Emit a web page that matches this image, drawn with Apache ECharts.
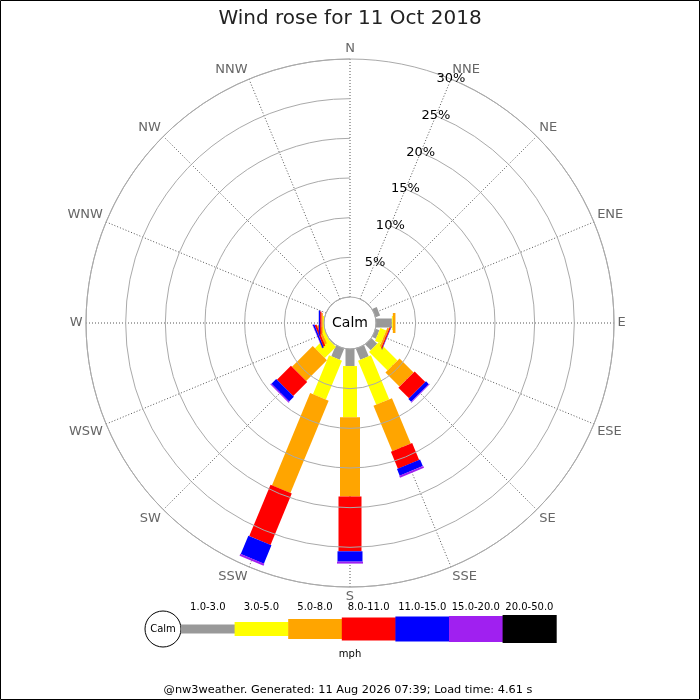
<!DOCTYPE html>
<html>
<head>
<meta charset="utf-8">
<title>Wind rose for 11 Oct 2018</title>
<script src="https://cdn.jsdelivr.net/npm/echarts@6/dist/echarts.min.js"></script>
<style>
  html, body { margin: 0; padding: 0; background: #fff; }
  #chart { width: 700px; height: 700px; }
</style>
</head>
<body>
<div id="chart"></div>
<script>
// compass points, N first, clockwise
var directions = ['N', 'NNE', 'NE', 'ENE', 'E', 'ESE', 'SE', 'SSE', 'S', 'SSW', 'SW', 'WSW', 'W', 'WNW', 'NW', 'NNW'];

// speed bins (mph) and their colours
var speedBins = ['1.0-3.0', '3.0-5.0', '5.0-8.0', '8.0-11.0', '11.0-15.0', '15.0-20.0', '20.0-50.0'];
var binColors = ['#999999', '#ffff00', '#ffa500', '#ff0000', '#0000ff', '#a020f0', '#000000'];

// % of time per direction, one array per speed bin (N .. NNW)
var pct1to3   = [0, 0, 0, 0.6, 2.0, 0.5, 1.0, 1.5, 2.15, 1.5, 0.1, 0, 0, 0, 0, 0];
var pct3to5   = [0, 0, 0, 0, 0.12, 0.8, 3.3, 6.0, 6.45, 5.3, 2.0, 0.4, 0.15, 0, 0, 0];
var pct5to8   = [0, 0, 0, 0, 0.33, 0.25, 2.5, 6.2, 10.0, 12.6, 3.7, 0.3, 0.17, 0, 0, 0];
var pct8to11  = [0, 0, 0, 0, 0, 0.15, 1.9, 2.3, 6.9, 7.0, 2.5, 0.25, 0.17, 0, 0, 0];
var pct11to15 = [0, 0, 0, 0, 0, 0.05, 0.5, 0.9, 1.3, 2.5, 0.85, 0.2, 0.17, 0, 0, 0];
var pct15to20 = [0, 0, 0, 0, 0, 0, 0.1, 0.25, 0.25, 0.25, 0.15, 0.05, 0, 0, 0, 0];
var pct20to50 = [0, 0, 0, 0, 0, 0, 0, 0, 0, 0, 0, 0, 0, 0, 0, 0];

var binValues = [pct1to3, pct3to5, pct5to8, pct8to11, pct11to15, pct15to20, pct20to50];

// bar thickness (px) for each bin, thicker for stronger winds
var binWidths = [9, 14, 20, 23, 25, 26, 28];

var FONT = 'DejaVu Sans';
var CX = 350, CY = 323, R_IN = 26, R_OUT = 264;

var myChart = echarts.init(document.getElementById('chart'));

// angle axis starts at NNE so that the % labels sit on that spoke
var axisDirs = directions.slice(1).concat(directions.slice(0, 1));

// stacked segments: [start, direction index, end]
var series = [];
var cum = directions.map(function () { return 0; });
binValues.forEach(function (vals, b) {
  var data = [];
  directions.forEach(function (d, i) {
    var start = cum[i];
    var end = start + vals[i];
    cum[i] = end;
    data.push([start, axisDirs.indexOf(d), end]);
  });
  var w = binWidths[b];
  series.push({
    name: speedBins[b],
    type: 'custom',
    coordinateSystem: 'polar',
    silent: true,
    data: data,
    renderItem: function (params, api) {
      var r0 = api.value(0), dir = api.value(1), r1 = api.value(2);
      if (!(r1 > r0)) return;
      var a = api.coord([0, dir]);
      var z = api.coord([30, dir]);
      var len = Math.hypot(z[0] - a[0], z[1] - a[1]);
      var ux = (z[0] - a[0]) / len, uy = (z[1] - a[1]) / len;
      var nx = -uy * w / 2, ny = ux * w / 2;
      var p0 = api.coord([r0, dir]);
      var p1 = api.coord([r1, dir]);
      return {
        type: 'polygon',
        shape: {
          points: [
            [p0[0] + nx, p0[1] + ny],
            [p1[0] + nx, p1[1] + ny],
            [p1[0] - nx, p1[1] - ny],
            [p0[0] - nx, p0[1] - ny]
          ]
        },
        style: { fill: binColors[b] }
      };
    }
  });
});

// legend strip under the rose
var legendX0 = 181, segW = 53.6, legendY = 629;
var graphics = [
  { type: 'rect', shape: { x: 0.5, y: 0.5, width: 699, height: 699 }, style: { fill: 'none', stroke: '#000', lineWidth: 1 }, z: 100 },
  { type: 'text', x: CX, y: CY, style: { text: 'Calm', font: '14px "' + FONT + '"', fill: '#000', textAlign: 'center', textVerticalAlign: 'middle' }, z: 100 },
  { type: 'circle', shape: { cx: 163, cy: legendY, r: 18 }, style: { fill: '#fff', stroke: '#000', lineWidth: 1 } },
  { type: 'text', x: 163, y: legendY, style: { text: 'Calm', font: '10px "' + FONT + '"', fill: '#000', textAlign: 'center', textVerticalAlign: 'middle' } },
  { type: 'text', x: 350, y: 654, style: { text: 'mph', font: '10px "' + FONT + '"', fill: '#000', textAlign: 'center', textVerticalAlign: 'middle' } },
  { type: 'text', x: 348, y: 690, style: { text: '@nw3weather. Generated: 11 Aug 2026 07:39; Load time: 4.61 s', font: '11.3px "' + FONT + '"', fill: '#000', textAlign: 'center', textVerticalAlign: 'middle' } }
];
speedBins.forEach(function (label, b) {
  var x = legendX0 + b * segW;
  graphics.push({ type: 'rect', shape: { x: x, y: legendY - binWidths[b] / 2, width: segW + 0.5, height: binWidths[b] }, style: { fill: binColors[b] } });
  graphics.push({ type: 'text', x: x + segW / 2, y: 607, style: { text: label, font: '10px "' + FONT + '"', fill: '#000', textAlign: 'center', textVerticalAlign: 'middle' } });
});

var option = {
  animation: false,
  backgroundColor: '#fff',
  textStyle: { fontFamily: FONT },
  title: {
    text: 'Wind rose for 11 Oct 2018',
    left: 'center',
    top: 4,
    textStyle: { fontFamily: FONT, fontSize: 20, fontWeight: 'normal', color: '#222' }
  },
  polar: {
    center: [CX, CY],
    radius: [R_IN, R_OUT]
  },
  angleAxis: {
    type: 'category',
    data: axisDirs,
    startAngle: 67.5,
    clockwise: true,
    boundaryGap: false,
    axisLine: { show: true, lineStyle: { color: '#aaa', width: 1 } },
    axisTick: { show: false },
    axisLabel: { interval: 0, margin: 3.5, color: '#666', fontSize: 13, fontFamily: FONT },
    splitLine: { show: true, lineStyle: { color: '#555', width: 1, type: [1, 2] } }
  },
  radiusAxis: {
    type: 'value',
    min: 0,
    max: 30,
    interval: 5,
    axisLine: { show: false },
    axisTick: { show: false },
    axisLabel: {
      margin: 0,
      align: 'center',
      verticalAlign: 'middle',
      color: '#000',
      fontSize: 13,
      fontFamily: FONT,
      formatter: function (v) { return v === 0 ? '' : v + '%'; }
    },
    splitLine: { show: true, lineStyle: { color: '#aaa', width: 1 } },
    z: 10
  },
  graphic: graphics,
  series: series
};

myChart.setOption(option);
</script>
</body>
</html>
